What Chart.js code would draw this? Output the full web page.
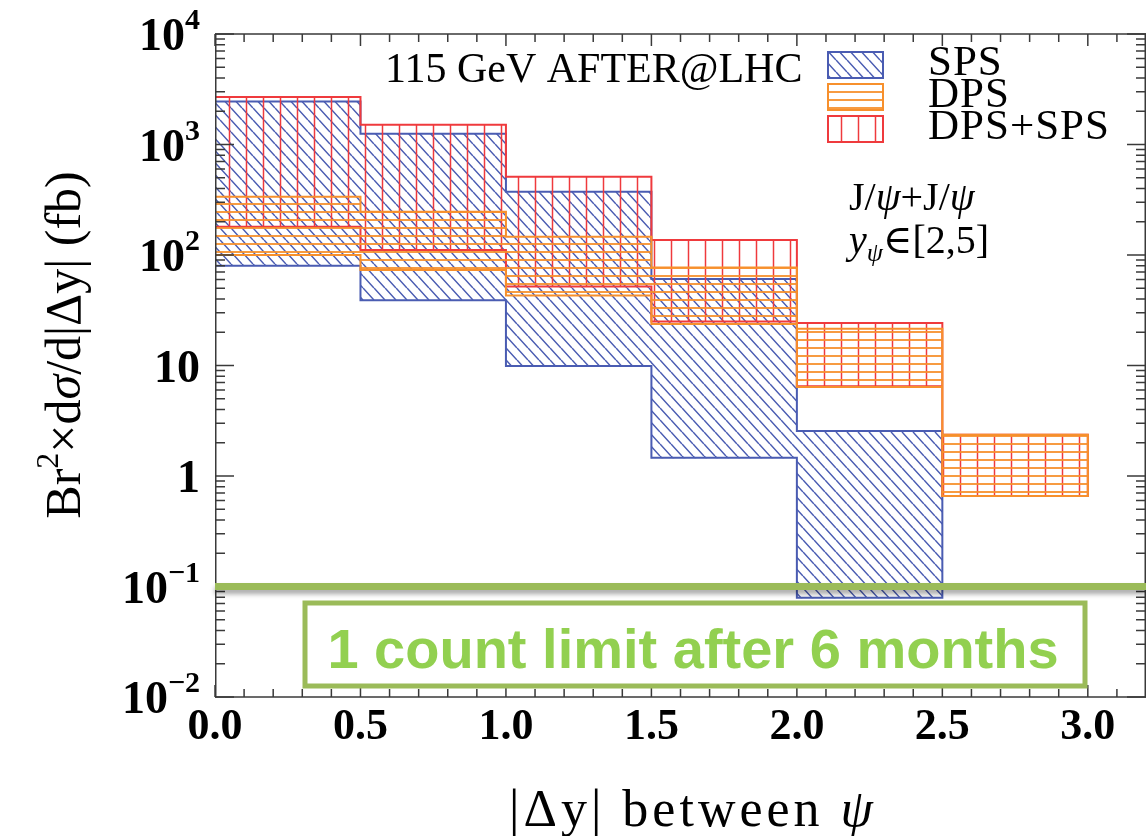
<!DOCTYPE html>
<html>
<head>
<meta charset="utf-8">
<script src="https://cdn.jsdelivr.net/npm/chart.js@4.4.1/dist/chart.umd.min.js"></script>
<style>
  html, body { margin: 0; padding: 0; background: #fff; }
  canvas { display: block; }
</style>
</head>
<body>
<canvas id="chart" width="1146" height="836"></canvas>
<script>
// |Δy| bins and the cross-section bands (fb): lower / upper edge per bin
const binEdges = [0, 0.5, 1.0, 1.5, 2.0, 2.5, 3.0];
const spsLow  = [80, 39, 9.9, 1.46, 0.079];
const spsHigh = [2450, 1250, 373, 60.5, 2.56];
const dpsLow  = [100, 73, 43, 23.8, 6.4, 0.66];
const dpsHigh = [337, 246, 146, 77, 21.5, 2.36];
const sumLow  = [180, 111, 52, 25, 6.5, 0.66];
const sumHigh = [2690, 1510, 510, 137, 24.3, 2.36];
const xTicks = [0, 0.5, 1.0, 1.5, 2.0, 2.5, 3.0];
const yPowers = [-2, -1, 0, 1, 2, 3, 4];
const countLimit = 0.1;

const SERIF = "'Liberation Serif', 'DejaVu Serif', serif";
const SANS = "'Liberation Sans', Arial, sans-serif";
const BLUE = '#4a5cb2', ORANGE = '#f7902c', RED = '#ef3a3d';
const GREEN = '#9bbb59', GREEN_TXT = '#92d050';

// small repeating tiles for the hatched bands
function hatch(color, kind) {
  const c = document.createElement('canvas');
  const g = c.getContext('2d');
  if (kind === 'diag') { c.width = 11; c.height = 12; }
  else if (kind === 'horiz') { c.width = 8; c.height = 8; }
  else { c.width = 17; c.height = 8; }
  g.strokeStyle = color;
  g.lineWidth = kind === 'horiz' ? 1.8 : 1.5;
  g.beginPath();
  if (kind === 'diag') {
    for (const k of [-1, 0, 1]) { g.moveTo(k * 11, 0); g.lineTo(k * 11 + 11, 12); }
  } else if (kind === 'horiz') {
    g.moveTo(0, 4); g.lineTo(8, 4);
  } else {
    g.moveTo(8.5, 0); g.lineTo(8.5, 8);
  }
  g.stroke();
  return g.createPattern(c, 'repeat');
}

const spsFill = hatch(BLUE, 'diag');
const dpsFill = hatch(ORANGE, 'horiz');
const sumFill = hatch(RED, 'vert');

// floating bar per bin
function bands(lo, hi) {
  return lo.map((v, i) => ({ x: (binEdges[i] + binEdges[i + 1]) / 2, y: [v, hi[i]] }));
}

// step contour around a band: along the top, down the right end, back along the bottom
function outline(lo, hi) {
  const pts = [];
  for (let i = 0; i < lo.length; i++) {
    pts.push({ x: binEdges[i], y: hi[i] }, { x: binEdges[i + 1], y: hi[i] });
  }
  for (let i = lo.length - 1; i >= 0; i--) {
    pts.push({ x: binEdges[i + 1], y: lo[i] }, { x: binEdges[i], y: lo[i] });
  }
  pts.push(pts[0]);
  return pts;
}

function lineSet(label, lo, hi, color, order) {
  return { type: 'line', label, data: outline(lo, hi), borderColor: color, borderWidth: 2,
           pointRadius: 0, fill: false, tension: 0, order };
}
function barSet(label, lo, hi, pattern, order) {
  return { type: 'bar', label, data: bands(lo, hi), backgroundColor: pattern, borderWidth: 0,
           barPercentage: 1, categoryPercentage: 1, grouped: false, order };
}

// draws a row of differently styled pieces of text
function drawRuns(ctx, runs, x, y, align) {
  let w = 0;
  for (const [t, f] of runs) { ctx.font = f; w += ctx.measureText(t).width; }
  let cx = align === 'right' ? x - w : align === 'center' ? x - w / 2 : x;
  for (const [t, f, dy] of runs) {
    ctx.font = f;
    ctx.fillText(t, cx, y + (dy || 0));
    cx += ctx.measureText(t).width;
  }
}

const frame = {
  id: 'frame',
  afterDraw(chart) {
    const { ctx, chartArea: a, scales: { x, y } } = chart;
    ctx.save();
    ctx.textAlign = 'left';
    ctx.textBaseline = 'alphabetic';

    // box and inward ticks on all four sides
    ctx.strokeStyle = '#3a3a3a';
    ctx.lineWidth = 1.5;
    ctx.strokeRect(a.left + 0.75, a.top, a.right - a.left - 1.5, a.bottom - a.top);
    ctx.beginPath();
    for (let k = 0; k <= 32; k++) {
      const px = x.getPixelForValue(k / 10);
      const len = k % 5 === 0 ? 12 : 8;
      ctx.moveTo(px, a.bottom); ctx.lineTo(px, a.bottom - len);
      ctx.moveTo(px, a.top); ctx.lineTo(px, a.top + len);
    }
    for (const p of yPowers) {
      for (let m = 1; m <= 9; m++) {
        if (p === 4 && m > 1) break;
        const py = y.getPixelForValue(m * Math.pow(10, p));
        const len = m === 1 ? 19 : 10;
        ctx.moveTo(a.left, py); ctx.lineTo(a.left + len, py);
        ctx.moveTo(a.right, py); ctx.lineTo(a.right - len, py);
      }
    }
    ctx.stroke();

    // y tick labels with raised exponents
    ctx.fillStyle = '#000';
    const big = `bold 46px ${SERIF}`, sup = `bold 30px ${SERIF}`;
    for (const p of yPowers) {
      const py = y.getPixelForValue(Math.pow(10, p)) + 16;
      let runs;
      if (p === 0) runs = [['1', big]];
      else if (p === 1) runs = [['10', big]];
      else runs = [['10', big], [p < 0 ? '\u2212' + (-p) : String(p), sup, -21]];
      drawRuns(ctx, runs, 200, py, 'right');
    }

    // axis titles
    ctx.save();
    ctx.translate(80, 345);
    ctx.rotate(-Math.PI / 2);
    drawRuns(ctx, [
      ['Br', `50px ${SERIF}`], ['2', `32px ${SERIF}`, -22], ['\u00d7d', `50px ${SERIF}`],
      ['\u03c3', `italic 50px ${SERIF}`], ['/d|\u0394y| (fb)', `50px ${SERIF}`]
    ], 0, 0, 'center');
    ctx.restore();
    ctx.save();
    ctx.letterSpacing = '4px';
    drawRuns(ctx, [['|\u0394y| between ', `52px ${SERIF}`], ['\u03c8', `italic 52px ${SERIF}`]],
      693, 826, 'center');
    ctx.restore();

    // labels inside the frame
    ctx.font = `42px ${SERIF}`;
    ctx.fillText('115 GeV AFTER@LHC', 385, 82);
    drawRuns(ctx, [['J/', `40px ${SERIF}`], ['\u03c8', `italic 40px ${SERIF}`],
                   ['+J/', `40px ${SERIF}`], ['\u03c8', `italic 40px ${SERIF}`]], 849, 210);
    drawRuns(ctx, [['y', `italic 40px ${SERIF}`], ['\u03c8', `italic 26px ${SERIF}`, 8],
                   ['\u2208[2,5]', `40px ${SERIF}`]], 849, 253);

    // legend
    const legend = [['SPS', spsFill, BLUE, 52], ['DPS', dpsFill, ORANGE, 84], ['DPS+SPS', sumFill, RED, 116]];
    ctx.save();
    ctx.letterSpacing = '1px';
    for (const [label, fill, color, top] of legend) {
      ctx.fillStyle = fill;
      ctx.fillRect(828, top, 55, 26);
      ctx.strokeStyle = color;
      ctx.lineWidth = 2;
      ctx.strokeRect(828, top, 55, 26);
      ctx.fillStyle = '#000';
      ctx.font = `43px ${SERIF}`;
      ctx.fillText(label, 928, top + 23);
    }
    ctx.restore();

    // one-count limit line and its caption box
    const yl = y.getPixelForValue(countLimit);
    ctx.save();
    ctx.shadowColor = 'rgba(0,0,0,0.35)';
    ctx.shadowBlur = 5;
    ctx.shadowOffsetY = 4;
    ctx.strokeStyle = GREEN;
    ctx.lineWidth = 7;
    ctx.beginPath();
    ctx.moveTo(a.left, yl);
    ctx.lineTo(a.right, yl);
    ctx.stroke();
    ctx.restore();
    ctx.strokeStyle = GREEN;
    ctx.lineWidth = 5;
    ctx.strokeRect(a.left + 90, a.bottom - 94, 780, 83);
    ctx.fillStyle = GREEN_TXT;
    ctx.font = `bold 56px ${SANS}`;
    ctx.textAlign = 'center';
    ctx.fillText('1 count limit after 6 months', a.left + 478, a.bottom - 29);
    ctx.restore();
  }
};

new Chart(document.getElementById('chart'), {
  type: 'bar',
  data: {
    datasets: [
      lineSet('DPS', dpsLow, dpsHigh, ORANGE, 1),
      barSet('DPS', dpsLow, dpsHigh, dpsFill, 2),
      lineSet('DPS+SPS', sumLow, sumHigh, RED, 3),
      barSet('DPS+SPS', sumLow, sumHigh, sumFill, 4),
      lineSet('SPS', spsLow, spsHigh, BLUE, 5),
      barSet('SPS', spsLow, spsHigh, spsFill, 6)
    ]
  },
  options: {
    responsive: false,
    animation: false,
    devicePixelRatio: 1,
    layout: { padding: { top: 34, right: 0, left: 0, bottom: 0 } },
    plugins: { legend: { display: false }, tooltip: { enabled: false } },
    scales: {
      x: {
        type: 'linear', min: 0, max: 3.2, offset: false,
        grid: { display: false, drawTicks: false }, border: { display: false },
        afterBuildTicks: s => { s.ticks = xTicks.map(v => ({ value: v })); },
        afterFit: s => { s.height = 139; },
        ticks: {
          font: { family: SERIF, size: 44, weight: 'bold' }, color: '#000',
          padding: 4, maxRotation: 0, autoSkip: false,
          callback: v => Number(v).toFixed(1)
        }
      },
      y: {
        type: 'logarithmic', min: 0.01, max: 10000,
        grid: { display: false, drawTicks: false }, border: { display: false },
        ticks: { display: false },
        afterFit: s => { s.width = 215; }
      }
    }
  },
  plugins: [frame]
});
</script>
</body>
</html>
